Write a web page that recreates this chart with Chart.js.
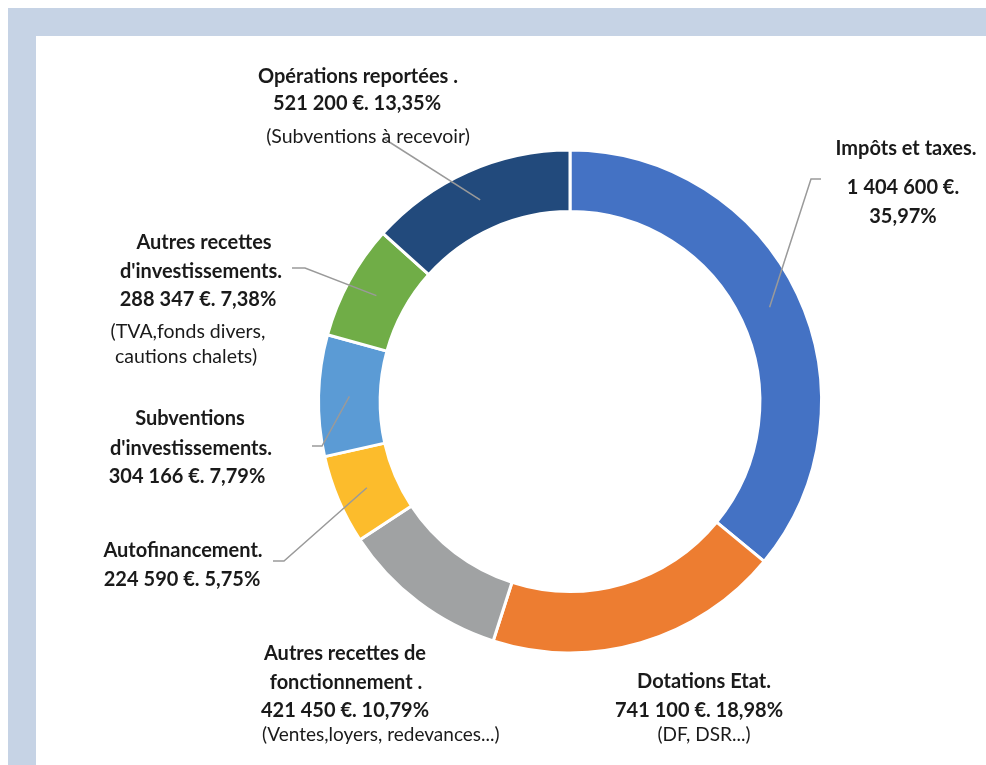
<!DOCTYPE html>
<html>
<head>
<meta charset="utf-8">
<script src="https://cdn.jsdelivr.net/npm/chart.js@4.4.1/dist/chart.umd.min.js"></script>
<style>
  html, body { margin:0; padding:0; width:986px; height:765px; overflow:hidden; background:#ffffff; }
  #frame { position:absolute; left:8px; top:8px; right:0; bottom:0; background:#c6d3e5; }
  #panel { position:absolute; left:36px; top:36px; right:0; bottom:0; background:#ffffff; }
  #wrap { position:absolute; left:0; top:0; width:986px; height:765px; }
  .lbl { position:absolute; white-space:nowrap; color:#1a1a1a; font-family:Lato, "Open Sans", sans-serif; line-height:1; }
  .b { font-weight:700; font-size:20px; }
  .n { font-weight:400; font-size:19.5px; }
  .s { font-weight:400; font-size:19px; }
</style>
</head>
<body>
<div id="frame"></div>
<div id="panel"></div>
<div id="wrap"><canvas id="c" width="986" height="765"></canvas></div>
<div id="labels"></div>
<script>
// ---- data ----
const categories = [
  "Impôts et taxes.",
  "Dotations Etat.",
  "Autres recettes de fonctionnement .",
  "Autofinancement.",
  "Subventions d'investissements.",
  "Autres recettes d'investissements.",
  "Opérations reportées ."
];
const amounts = [1404600, 741100, 421450, 224590, 304166, 288347, 521200];
const notes = ["", "(DF, DSR...)", "(Ventes,loyers, redevances...)", "", "", "(TVA,fonds divers,|cautions chalets)", "(Subventions à recevoir)"];
const colors = ["#4472c4", "#ed7d31", "#a0a2a3", "#fcbc2c", "#5b9bd5", "#70ad47", "#224a7c"];

// ---- helpers ----
const total = amounts.reduce((a, b) => a + b, 0);
function fmtAmount(v) { return String(v).replace(/\B(?=(\d{3})+(?!\d))/g, "\u202F") + " €."; }
function fmtPct(v) { return (v / total * 100).toFixed(2).replace(".", ",") + "%"; }
const amt = amounts.map(fmtAmount);
const pct = amounts.map(fmtPct);

// label layout: [text, x, yCenter, align, class]
const lines = [
  // Opérations reportées (6)
  ["Opérations reportées .", 358, 75, "c", "b"],
  [amt[6] + " " + pct[6], 357, 102, "c", "b"],
  [notes[6], 368, 136, "c", "n"],
  // Impôts (0)
  ["Impôts et taxes.", 906, 147, "c", "b"],
  [amt[0], 903, 186, "c", "b"],
  [pct[0], 903, 215, "c", "b"],
  // Autres recettes d'investissements (5)
  ["Autres recettes", 204, 241, "c", "b"],
  ["d'investissements.", 201, 270, "c", "b"],
  [amt[5] + " " + pct[5], 198, 298, "c", "b"],
  [notes[5].split("|")[0], 188, 331, "c", "n"],
  [notes[5].split("|")[1], 186, 356, "c", "n"],
  // Subventions d'investissements (4)
  ["Subventions", 190, 417, "c", "b"],
  ["d'investissements.", 191, 447, "c", "b"],
  [amt[4] + " " + pct[4], 187, 475, "c", "b"],
  // Autofinancement (3)
  ["Autofinancement.", 183, 549, "c", "b"],
  [amt[3] + " " + pct[3], 182, 578, "c", "b"],
  // Autres recettes de fonctionnement (2)
  ["Autres recettes de", 345, 652, "c", "b"],
  ["fonctionnement .", 346, 681, "c", "b"],
  [amt[2] + " " + pct[2], 345, 709, "c", "b"],
  [notes[2], 262, 733, "l", "s"],
  // Dotations (1)
  ["Dotations Etat.", 704, 680, "c", "b"],
  [amt[1] + " " + pct[1], 699, 709, "c", "b"],
  [notes[1], 704, 733, "c", "s"]
];
const host = document.getElementById("labels");
lines.forEach(([t, x, y, a, cls]) => {
  const d = document.createElement("div");
  d.className = "lbl " + cls;
  d.textContent = t;
  d.style.left = x + "px";
  d.style.top = y + "px";
  d.style.transform = a === "c" ? "translate(-50%,-50%)" : "translate(0,-50%)";
  host.appendChild(d);
});

// leader line anchors (label side), keyed by slice index
const leaders = {
  6: [[383, 138]],
  0: [[821, 179], [811, 179]],
  5: [[292, 268], [305, 268]],
  4: [[312, 446], [322, 446]],
  3: [[273, 561], [284, 561]]
};
const leaderPlugin = {
  id: "leaders",
  afterDatasetsDraw(chart) {
    const ctx = chart.ctx;
    const arcs = chart.getDatasetMeta(0).data;
    ctx.save();
    ctx.strokeStyle = "#9a9a9a";
    ctx.lineWidth = 1.5;
    Object.keys(leaders).forEach(k => {
      const pts = leaders[k];
      const c = arcs[k].getCenterPoint();
      ctx.beginPath();
      ctx.moveTo(pts[0][0], pts[0][1]);
      for (let i = 1; i < pts.length; i++) ctx.lineTo(pts[i][0], pts[i][1]);
      ctx.lineTo(c.x, c.y);
      ctx.stroke();
    });
    ctx.restore();
  }
};

new Chart(document.getElementById("c"), {
  type: "doughnut",
  data: {
    labels: categories,
    datasets: [{
      data: amounts,
      backgroundColor: colors,
      borderColor: "#ffffff",
      borderWidth: 3
    }]
  },
  options: {
    responsive: false,
    animation: false,
    cutout: "75.5%",
    layout: { padding: { left: 317, right: 163, top: 148, bottom: 110 } },
    plugins: { legend: { display: false }, tooltip: { enabled: false } }
  },
  plugins: [leaderPlugin]
});
</script>
</body>
</html>
